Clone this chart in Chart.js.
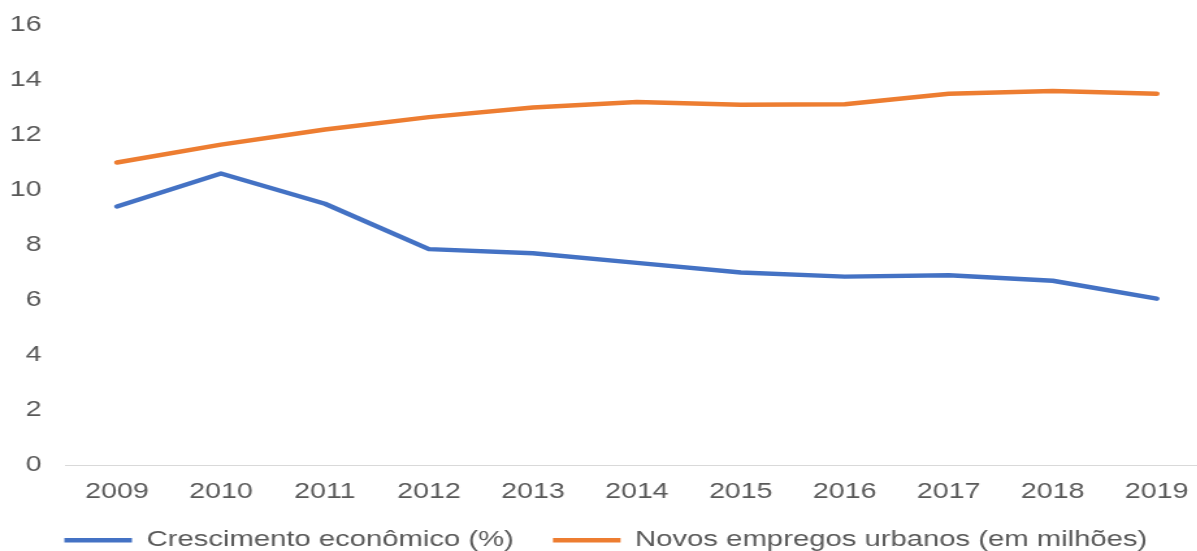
<!DOCTYPE html>
<html>
<head>
<meta charset="utf-8">
<script src="https://cdn.jsdelivr.net/npm/chart.js@4"></script>
<style>
  html, body { margin: 0; padding: 0; background: #fff; overflow: hidden; }
  #wrap {
    width: 932px;
    height: 551px;
    transform: scaleX(1.3);
    transform-origin: 0 0;
  }
</style>
</head>
<body>
<div id="wrap"><canvas id="myChart" width="932" height="551"></canvas></div>
<script>
const years = ['2009', '2010', '2011', '2012', '2013', '2014', '2015', '2016', '2017', '2018', '2019'];
const growth = [9.4, 10.6, 9.5, 7.85, 7.7, 7.35, 7.0, 6.85, 6.9, 6.7, 6.05];
const urbanJobs = [11.0, 11.65, 12.2, 12.65, 13.0, 13.2, 13.1, 13.12, 13.5, 13.6, 13.5];
const yTicks = [0, 2, 4, 6, 8, 10, 12, 14, 16];

const textColor = '#595959';
const fontFamily = '"Liberation Sans", Arial, sans-serif';

function makeLine(label, data, color) {
    return {
        label: label,
        data: data,
        borderColor: color,
        backgroundColor: color,
        borderWidth: 4.5,
        pointRadius: 0,
        tension: 0,
        borderCapStyle: 'round',
        borderJoinStyle: 'round',
        pointStyle: 'line'
    };
}

const ctx = document.getElementById('myChart').getContext('2d');
const myChart = new Chart(ctx, {
    type: 'line',
    data: {
        labels: years,
        datasets: [
            makeLine('Crescimento econômico (%)', growth, '#4472C4'),
            makeLine('Novos empregos urbanos (em milhões)', urbanJobs, '#ED7D31')
        ]
    },
    options: {
        responsive: false,
        animation: false,
        devicePixelRatio: 1,
        layout: {
            padding: { top: 25, left: 0, right: 0, bottom: 0 }
        },
        scales: {
            x: {
                offset: true,
                afterFit: (scale) => { scale.height = 34; },
                grid: { display: false, drawTicks: false },
                border: { display: true, color: '#d9d9d9', width: 1 },
                ticks: {
                    color: textColor,
                    padding: 14,
                    maxRotation: 0,
                    font: { family: fontFamily, size: 22 }
                }
            },
            y: {
                min: 0,
                max: 16,
                afterFit: (scale) => {
                    scale.width = 50;
                    // let the layout padding alone decide the top edge
                    scale.paddingTop = 0;
                    scale.paddingBottom = 0;
                },
                afterBuildTicks: (scale) => {
                    scale.ticks = yTicks.map(v => ({ value: v }));
                },
                grid: { display: false, drawTicks: false },
                border: { display: false },
                ticks: {
                    color: textColor,
                    padding: 18,
                    font: { family: fontFamily, size: 22 }
                }
            }
        },
        plugins: {
            legend: {
                position: 'bottom',
                labels: {
                    usePointStyle: true,
                    pointStyleWidth: 52,
                    padding: 30,
                    color: textColor,
                    font: { family: fontFamily, size: 22.5 }
                }
            },
            tooltip: { enabled: false }
        }
    }
});

// keep the legend row tight under the axis labels
const legendFit = myChart.legend.fit;
myChart.legend.fit = function() {
    legendFit.call(this);
    this.height = 52;
};
myChart.update();
</script>
</body>
</html>
